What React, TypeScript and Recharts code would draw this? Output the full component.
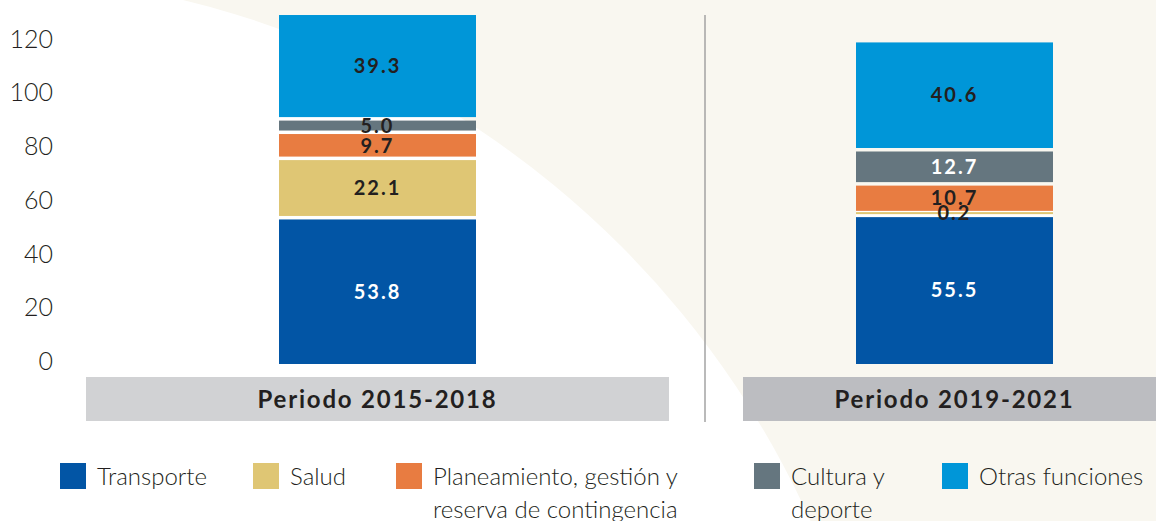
import React from 'react';
import { BarChart, Bar, XAxis, YAxis, LabelList, Legend } from 'recharts';

const periods = ['Periodo 2015-2018', 'Periodo 2019-2021'];
const transporte = [53.8, 55.5];
const salud = [22.1, 0.2];
const planeamiento = [9.7, 10.7];
const cultura = [5.0, 12.7];
const otras = [39.3, 40.6];
const yTicks = [0, 20, 40, 60, 80, 100, 120];

const seriesKeys = ['transporte', 'salud', 'planeamiento', 'cultura', 'otras'];
const seriesNames = [
  'Transporte',
  'Salud',
  'Planeamiento, gestión y reserva de contingencia',
  'Cultura y deporte',
  'Otras funciones',
];
const seriesColors = ['#0255a5', '#dfc674', '#e87c41', '#65767f', '#0096d8'];
const DARK = '#231f20';
const labelColors: Record<string, string[]> = {
  transporte: ['#ffffff', '#ffffff'],
  salud: [DARK, DARK],
  planeamiento: [DARK, DARK],
  cultura: [DARK, '#ffffff'],
  otras: [DARK, DARK],
};

const data = periods.map((p, i) => ({
  period: p,
  transporte: transporte[i],
  salud: salud[i],
  planeamiento: planeamiento[i],
  cultura: cultura[i],
  otras: otras[i],
}));

const GAP = 3.5;
const FONT = 'Lato, "Open Sans", sans-serif';

const makeShape = (isBottom: boolean) => (props: any) => {
  const { x, y, width, height, fill } = props;
  if (height == null || width == null) return <g />;
  if (isBottom) return <rect x={x} y={y} width={width} height={height} fill={fill} />;
  if (height - GAP < 3) {
    const yc = y + height / 2 - 1.5;
    return (
      <g>
        <rect x={x} y={yc - 4} width={width} height={8} fill="#ffffff" />
        <rect x={x} y={yc - 1} width={width} height={2} fill={fill} />
      </g>
    );
  }
  return <rect x={x} y={y} width={width} height={Math.max(height - GAP, 0)} fill={fill} />;
};

const makeLabel = (key: string, isBottom: boolean) => (props: any) => {
  const vb = props.viewBox || props;
  const { x, y, width, height } = vb;
  const { value, index } = props;
  if (value == null) return null;
  const h = isBottom ? height : height - GAP;
  const tiny = !isBottom && height - GAP < 3;
  const cy = tiny ? y + height / 2 - 2 : y + h / 2;
  return (
    <text
      x={x + width / 2}
      y={cy}
      dy="0.36em"
      textAnchor="middle"
      fontFamily={FONT}
      fontWeight={700}
      fontSize={20}
      letterSpacing={2}
      fill={labelColors[key][index]}
    >
      {Number(value).toFixed(1)}
    </text>
  );
};

const boxStyles = [
  { dx: -291.5, w: 583, fill: '#d1d2d4' },
  { dx: -211.5, w: 424, fill: '#bcbdc1' },
];

const PeriodTick = (props: any) => {
  const { x, y, payload, index } = props;
  const b = boxStyles[index] || boxStyles[0];
  return (
    <g>
      <rect x={x + b.dx} y={y + 13} width={b.w} height={44} fill={b.fill} />
      <text
        x={x}
        y={y + 35}
        dy="0.36em"
        textAnchor="middle"
        fontFamily={FONT}
        fontWeight={700}
        fontSize={24}
        letterSpacing={1.8}
        fill={DARK}
      >
        {payload.value}
      </text>
    </g>
  );
};

const ValueTick = (props: any) => {
  const { x, y, payload } = props;
  return (
    <text
      x={x}
      y={y - 3}
      dy="0.36em"
      textAnchor="end"
      fontFamily={FONT}
      fontWeight={300}
      fontSize={25}
      fill={DARK}
    >
      {payload.value}
    </text>
  );
};

const legendX = [60, 253, 396, 754, 942];
const legendMaxW = [300, 300, 285, 120, 260];

const LegendContent = () => (
  <div style={{ position: 'relative', width: 1156, height: 63 }}>
    {seriesNames.map((n, i) => (
      <div key={n} style={{ position: 'absolute', left: legendX[i], top: 0 }}>
        <div
          style={{
            position: 'absolute',
            left: 0,
            top: 4,
            width: 26,
            height: 26,
            background: seriesColors[i],
          }}
        />
        <div
          style={{
            position: 'absolute',
            left: 37,
            top: 0,
            width: legendMaxW[i],
            fontFamily: FONT,
            fontWeight: 300,
            fontSize: 24,
            lineHeight: '33px',
            color: DARK,
            whiteSpace: 'normal',
          }}
        >
          {n}
        </div>
      </div>
    ))}
  </div>
);

export default function App() {
  return (
    <div style={{ position: 'relative', width: 1156, height: 521, overflow: 'hidden', background: '#ffffff' }}>
      <style>{'body{margin:0;overflow:hidden}'}</style>
      <svg
        width={1156}
        height={521}
        style={{ position: 'absolute', left: 0, top: 0 }}
      >
        <rect x={0} y={0} width={1156} height={521} fill="#f9f7f0" />
        <circle cx={-35} cy={901} r={927} fill="#ffffff" />
        <line x1={705} y1={15} x2={705} y2={422} stroke="#a3a3a3" strokeWidth={1.5} />
      </svg>
      <div style={{ position: 'absolute', left: 0, top: 0 }}>
        <BarChart
          width={1250}
          height={521}
          data={data}
          margin={{ top: 4, right: 7, bottom: 97, left: 0 }}
          barSize={197}
        >
          <XAxis
            dataKey="period"
            height={60}
            axisLine={false}
            tickLine={false}
            tickSize={0}
            tickMargin={0}
            interval={0}
            tick={<PeriodTick />}
          />
          <YAxis
            width={89}
            domain={[0, 134]}
            ticks={yTicks}
            axisLine={false}
            tickLine={false}
            tickSize={0}
            tickMargin={36}
            tick={<ValueTick />}
          />
          <Legend
            layout="horizontal"
            verticalAlign="middle"
            align="center"
            wrapperStyle={{ position: 'absolute', left: 0, top: 459, width: 1156, height: 62 }}
            content={<LegendContent />}
          />
          {seriesKeys.map((k, i) => (
            <Bar
              key={k}
              dataKey={k}
              name={seriesNames[i]}
              stackId="a"
              fill={seriesColors[i]}
              isAnimationActive={false}
              shape={makeShape(i === 0)}
            >
              <LabelList dataKey={k} content={makeLabel(k, i === 0)} />
            </Bar>
          ))}
        </BarChart>
      </div>
    </div>
  );
}
